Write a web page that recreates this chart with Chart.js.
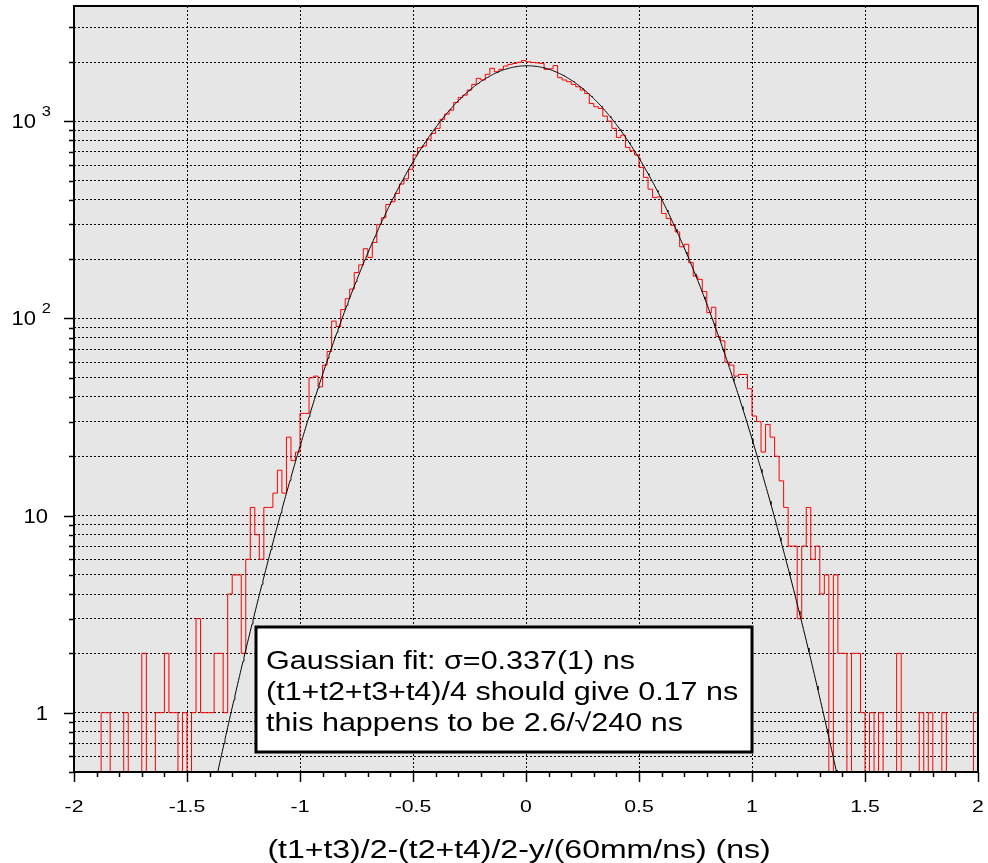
<!DOCTYPE html>
<html>
<head>
<meta charset="utf-8">
<script src="https://cdn.jsdelivr.net/npm/chart.js@4.4.1/dist/chart.umd.min.js"></script>
<style>
  html, body { margin: 0; padding: 0; background: #fff; }
  #wrap { width: 988px; height: 863px; }
</style>
</head>
<body>
<div id="wrap"><canvas id="grafico"></canvas></div>
<script>
// histograma: bins de 0.02 ns de -2 a 2 (200 bins)
const binStart = -2;
const binWidth = 0.02;
const counts = [
  0, 0, 0, 0, 0, 0, 1, 1, 0, 0,
  0, 1, 0, 0, 0, 2, 0, 0, 1, 1,
  2, 1, 1, 0, 1, 0, 1, 3, 1, 1,
  1, 2, 2, 1, 4, 5, 5, 2, 6, 11,
  8, 6, 11, 11, 13, 17, 13, 25, 19, 21,
  33, 33, 50, 51, 45, 58, 68, 97, 91, 111,
  126, 141, 171, 187, 226, 204, 243, 300, 324, 379,
  391, 431, 481, 511, 571, 675, 735, 750, 813, 869,
  922, 1024, 1089, 1141, 1248, 1323, 1359, 1442, 1541, 1653,
  1622, 1733, 1859, 1786, 1837, 1910, 1947, 1969, 1994, 2035,
  2005, 1990, 1980, 1970, 1837, 1850, 1920, 1666, 1622, 1590,
  1541, 1499, 1442, 1385, 1232, 1186, 1163, 1063, 1003, 922,
  829, 852, 738, 709, 675, 584, 520, 453, 411, 414,
  341, 322, 297, 275, 231, 238, 192, 164, 158, 137,
  107, 114, 81, 77, 60, 58, 51, 52, 52, 44,
  32, 30, 21, 29, 25, 20, 15, 11, 7, 7,
  3, 7, 11, 6, 7, 4, 5, 0, 5, 2,
  2, 0, 2, 2, 1, 0, 1, 0, 1, 0,
  0, 0, 2, 0, 0, 0, 0, 1, 0, 1,
  0, 0, 1, 0, 0, 0, 0, 0, 0, 1
];

// ajuste gaussiano
const fitAmp = 1915;
const fitMean = 0.005;
const fitSigma = 0.337;

// eixos
const xRange = [-2, 2];
const xLabelTicks = [-2, -1.5, -1, -0.5, 0, 0.5, 1, 1.5, 2];
const xMinorStep = 0.1;
const yRange = [0.5, 3850];
const yMajorTicks = [1, 10, 100, 1000];
const yMajorLabels = [['1', ''], ['10', ''], ['10', '2'], ['10', '3']];
const yMinorFactors = [2, 3, 4, 5, 6, 7, 8, 9];
const xTitle = '(t1+t3)/2-(t2+t4)/2-y/(60mm/ns) (ns)';
const noteLines = [
  'Gaussian fit: \u03c3=0.337(1) ns',
  '(t1+t2+t3+t4)/4 should give 0.17 ns',
  'this happens to be 2.6/\u221a240 ns'
];

const fonte = '"Liberation Sans", Arial, sans-serif';

// pontos do histograma (degraus)
const histPoints = counts.map((c, k) => ({
  x: binStart + k * binWidth,
  y: c > 0 ? c : 0.05
}));
histPoints.push({ x: xRange[1], y: histPoints[histPoints.length - 1].y });

// curva do ajuste
const fitPoints = [];
for (let i = 0; i <= 1000; i++) {
  const x = xRange[0] + i * 0.004;
  const y = fitAmp * Math.exp(-Math.pow(x - fitMean, 2) / (2 * fitSigma * fitSigma));
  fitPoints.push({ x: x, y: Math.max(y, 0.01) });
}

// ticks
const xTicksAll = [];
for (let v = xRange[0]; v <= xRange[1] + 1e-9; v += xMinorStep) {
  xTicksAll.push(Math.round(v * 10) / 10);
}
const yTicksAll = [];
[0.1, 1, 10, 100, 1000].forEach((d) => {
  [1].concat(yMinorFactors).forEach((f) => {
    const v = Math.round(d * f * 10) / 10;
    if (v >= yRange[0] && v <= yRange[1]) yTicksAll.push(v);
  });
});

function isLabelTick(v) {
  return xLabelTicks.some((t) => Math.abs(t - v) < 1e-6);
}

function desenhaTexto(ctx, str, x, y, size, align, stretch) {
  ctx.save();
  ctx.font = size + 'px ' + fonte;
  ctx.textBaseline = 'alphabetic';
  const w = ctx.measureText(str).width * stretch;
  let x0 = x;
  if (align === 'center') x0 = x - w / 2;
  else if (align === 'right') x0 = x - w;
  ctx.translate(x0, y);
  ctx.scale(stretch, 1);
  ctx.fillStyle = '#000';
  ctx.fillText(str, 0, 0);
  ctx.restore();
  return w;
}

const fundo = {
  id: 'fundo',
  beforeDraw(chart) {
    const { ctx, chartArea: a } = chart;
    ctx.save();
    ctx.fillStyle = '#e6e6e6';
    ctx.fillRect(a.left, a.top, a.right - a.left, a.bottom - a.top);
    ctx.restore();
  }
};

const moldura = {
  id: 'moldura',
  afterDraw(chart) {
    const { ctx, chartArea: a } = chart;
    const xs = chart.scales.x;
    const ys = chart.scales.y;
    ctx.save();
    ctx.strokeStyle = '#000';

    // marcas do eixo x
    ctx.lineWidth = 1.5;
    xTicksAll.forEach((v) => {
      const px = Math.round(xs.getPixelForValue(v)) + 0.5;
      const len = isLabelTick(v) ? 10 : 5;
      ctx.beginPath();
      ctx.moveTo(px, a.bottom);
      ctx.lineTo(px, a.bottom + len);
      ctx.stroke();
    });
    // marcas do eixo y
    yTicksAll.forEach((v) => {
      const py = Math.round(ys.getPixelForValue(v)) + 0.5;
      const len = yMajorTicks.includes(v) ? 10 : 5;
      ctx.beginPath();
      ctx.moveTo(a.left, py);
      ctx.lineTo(a.left - len, py);
      ctx.stroke();
    });

    // moldura
    ctx.lineWidth = 2;
    ctx.strokeRect(a.left, a.top, a.right - a.left, a.bottom - a.top);

    // rótulos x
    xLabelTicks.forEach((v) => {
      const px = xs.getPixelForValue(v);
      desenhaTexto(ctx, String(v), px, 812, 17, 'center', 1.25);
    });
    // rótulos y
    yMajorTicks.forEach((v, i) => {
      const py = ys.getPixelForValue(v);
      const [base, expo] = yMajorLabels[i];
      if (expo) {
        desenhaTexto(ctx, expo, 51, py - 5, 15, 'right', 1.1);
        desenhaTexto(ctx, base, 36, py + 7, 20, 'right', 1.1);
      } else {
        desenhaTexto(ctx, base, 48, py + 7, 20, 'right', 1.1);
      }
    });
    // título x
    desenhaTexto(ctx, xTitle, (a.left + a.right) / 2 - 7, 858, 25, 'center', 1.28);
    ctx.restore();
  }
};

const nota = {
  id: 'nota',
  afterDatasetsDraw(chart) {
    const { ctx } = chart;
    ctx.save();
    ctx.fillStyle = '#fff';
    ctx.fillRect(256, 627, 496, 125);
    ctx.lineWidth = 3;
    ctx.strokeStyle = '#000';
    ctx.strokeRect(256, 627, 496, 125);
    noteLines.forEach((t, i) => {
      desenhaTexto(ctx, t, 266, 669 + i * 31, 25, 'left', 1.22);
    });
    ctx.restore();
  }
};

const ctx = document.getElementById('grafico').getContext('2d');
const grafico = new Chart(ctx, {
  type: 'line',
  data: {
    datasets: [
      {
        label: 'ajuste',
        data: fitPoints,
        borderColor: '#000',
        borderWidth: 1,
        pointRadius: 0,
        tension: 0,
        fill: false
      },
      {
        label: 'histograma',
        data: histPoints,
        borderColor: '#ff0000',
        borderWidth: 1,
        pointRadius: 0,
        stepped: 'before',
        fill: false
      }
    ]
  },
  options: {
    responsive: true,
    maintainAspectRatio: false,
    animation: false,
    layout: { padding: { top: 6, right: 10, left: 0, bottom: 0 } },
    scales: {
      x: {
        type: 'linear',
        min: xRange[0],
        max: xRange[1],
        afterBuildTicks: (s) => { s.ticks = xTicksAll.map((v) => ({ value: v })); },
        afterFit: (s) => { s.height = 91; },
        ticks: { display: false },
        grid: {
          drawTicks: false,
          color: (c) => (c.tick && isLabelTick(c.tick.value) && Math.abs(c.tick.value) < 2 ? '#000' : 'rgba(0,0,0,0)'),
          lineWidth: 1
        },
        border: { display: false, dash: [2, 2] }
      },
      y: {
        type: 'logarithmic',
        min: yRange[0],
        max: yRange[1],
        afterBuildTicks: (s) => { s.ticks = yTicksAll.map((v) => ({ value: v })); },
        afterFit: (s) => { s.width = 74; },
        ticks: { display: false },
        grid: {
          drawTicks: false,
          color: '#000',
          lineWidth: 1
        },
        border: { display: false, dash: [2, 2] }
      }
    },
    plugins: {
      legend: { display: false },
      tooltip: { enabled: false }
    }
  },
  plugins: [fundo, nota, moldura]
});
</script>
</body>
</html>
